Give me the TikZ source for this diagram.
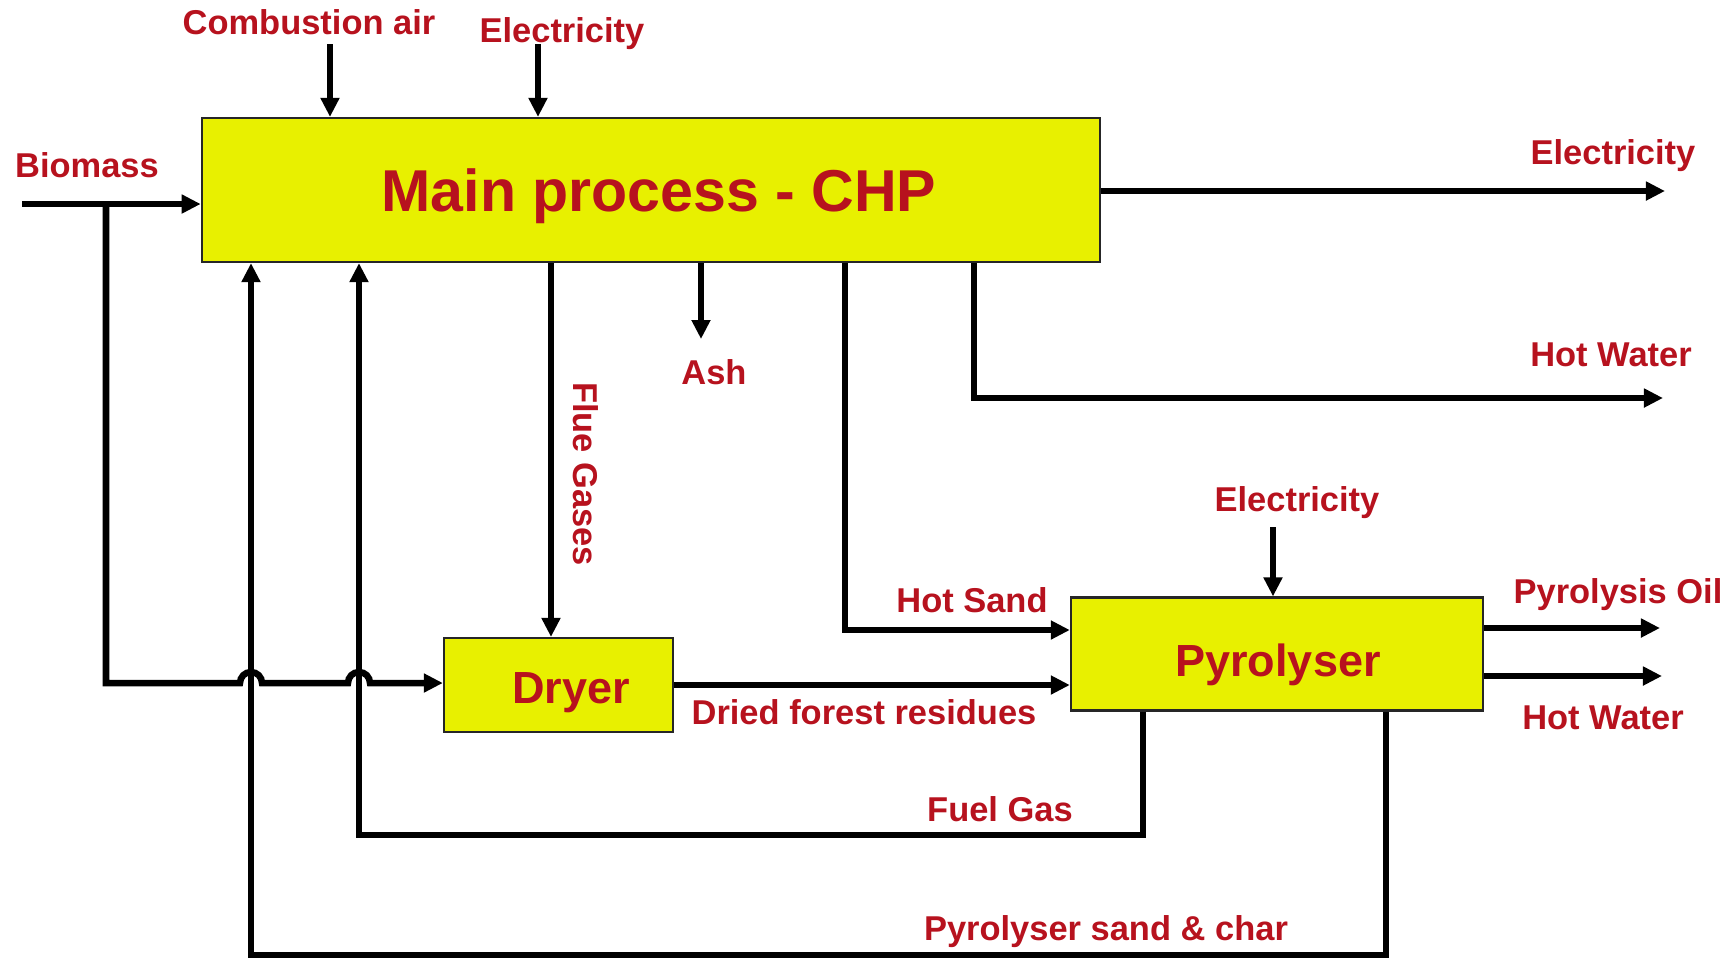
\documentclass[tikz,border=0pt]{standalone}
\usepackage{fontspec}
\setmainfont{Liberation Sans}
\usetikzlibrary{arrows.meta,positioning}
\definecolor{flowred}{RGB}{183,18,30}
\definecolor{boxyellow}{RGB}{232,240,0}
\tikzset{
  procbox/.style={draw=black!85, line width=0.6pt, fill=boxyellow},
  boxtext/.style={text=flowred, font=\fontsize{12.8}{15}\selectfont\bfseries, inner sep=0pt},
  lbl/.style={text=flowred, font=\fontsize{9.8}{12}\selectfont\bfseries, inner sep=0pt},
  flowline/.style={line width=1.85pt},
  flow/.style={flowline, -{Triangle[length=0.19cm,width=0.18cm]}},
}
\begin{document}
\begin{tikzpicture}[x=0.01cm,y=-0.01cm]
\useasboundingbox (0,0) rectangle (1735,959);

% process boxes
\node[procbox, minimum width=8.98cm, minimum height=1.44cm] (chp) at (651,190) {};
\node[procbox, minimum width=2.29cm, minimum height=0.94cm] (dryer) at (558.5,685) {};
\node[procbox, minimum width=4.12cm, minimum height=1.13cm] (pyro) at (1277,654) {};
\node[boxtext, font=\fontsize{16.8}{20}\selectfont\bfseries] (chptitle) at (659,196) {Main process - CHP};
\node[boxtext] (dryertitle) at (571,693) {Dryer};
\node[boxtext] (pyrotitle) at (1278,665) {Pyrolyser};

% labels
\node[lbl] (biomass) at (87,165) {Biomass};
\node[lbl] (air) at (309,22) {Combustion air};
\node[lbl] (elecin) at (562,34) {Electricity};
\node[lbl] (elecout) at (1613,156) {Electricity};
\node[lbl] (hwchp) at (1611,355) {Hot Water};
\node[lbl, rotate=-90] (flue) at (586,474) {Flue Gases};
\node[lbl] (ash) at (714,372) {Ash};
\node[lbl] (sand) at (972,600) {Hot Sand};
\node[lbl] (dried) at (864,712) {Dried forest residues};
\node[lbl] (elecpy) at (1297,503) {Electricity};
\node[lbl] (oil) at (1618,595) {Pyrolysis Oil};
\node[lbl] (hwpy) at (1603,718) {Hot Water};
\node[lbl] (fuel) at (1000,809) {Fuel Gas};
\node[lbl] (char) at (1106,932) {Pyrolyser sand \& char};

% free ends and corners
\coordinate (bioin) at (22,204);
\coordinate (split) at (106,204);
\coordinate (j1) at (251,683);
\coordinate (j2) at (359,683);
\coordinate (air0) at (330,44);
\coordinate (el0) at (538,44);
\coordinate (elend) at (1665,191);
\coordinate (hwc) at (974,398);
\coordinate (hwend) at (1663,398);
\coordinate (fluex) at (551,400);
\coordinate (ashend) at (701,339);
\coordinate (sandc) at (845,630);
\coordinate (elpy0) at (1273,527);
\coordinate (oilend) at (1660,628);
\coordinate (hwpyend) at (1662,676);
\coordinate (fuelc) at (1143,835);
\coordinate (charc) at (1386,955);

% biomass feed and bypass to the dryer
\draw[flow] (bioin) -- (bioin -| chp.west);
\draw[flow] (split) -- (split |- j1) -- ([xshift=-0.11cm]j1)
  arc[start angle=180, end angle=0, radius=0.11cm] -- ([xshift=-0.11cm]j2)
  arc[start angle=180, end angle=0, radius=0.11cm] -- (j2 -| dryer.west);

% inputs to CHP
\draw[flow] (air0) -- (air0 |- chp.north);
\draw[flow] (el0) -- (el0 |- chp.north);

% CHP outputs
\draw[flow] (elend -| chp.east) -- (elend);
\draw[flow] (hwc |- chp.south) -- (hwc) -- (hwend);
\draw[flow] (fluex |- chp.south) -- (fluex |- dryer.north);
\draw[flow] (ashend |- chp.south) -- (ashend);
\draw[flow] (sandc |- chp.south) -- (sandc) -- (sandc -| pyro.west);

% dryer to pyrolyser
\draw[flow] (dryer.east) -- (dryer.east -| pyro.west);
\draw[flow] (elpy0) -- (elpy0 |- pyro.north);
\draw[flow] (oilend -| pyro.east) -- (oilend);
\draw[flow] (hwpyend -| pyro.east) -- (hwpyend);

% recycle streams back to CHP
\draw[flow] (fuelc |- pyro.south) -- (fuelc) -| (j2 |- chp.south);
\draw[flow] (charc |- pyro.south) -- (charc) -| (j1 |- chp.south);
\end{tikzpicture}
\end{document}
